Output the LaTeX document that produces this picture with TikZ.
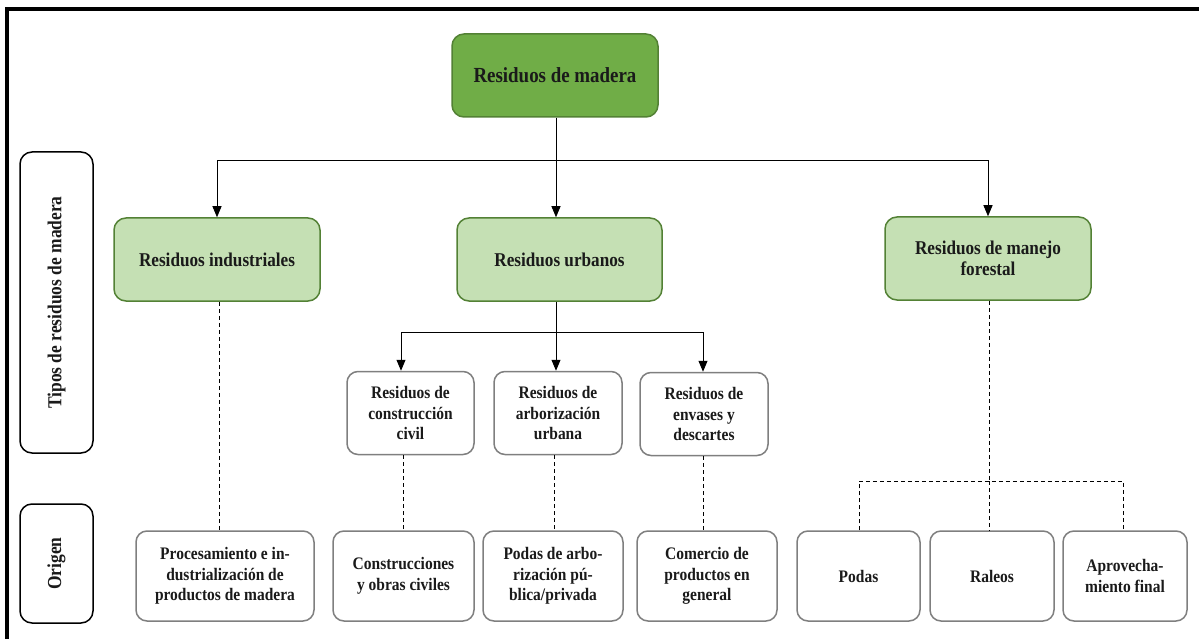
\documentclass[tikz,border=0pt]{standalone}
\usepackage{fontspec}
\setmainfont{Liberation Serif}
\newfontfamily\narrowserif[FakeStretch=0.88]{Liberation Serif}
\usetikzlibrary{arrows.meta}
\definecolor{rootgreen}{HTML}{70AD47}
\definecolor{typegreen}{HTML}{C5E0B4}
\definecolor{greenline}{HTML}{538135}
\definecolor{boxgray}{HTML}{7F7F7F}
\definecolor{ink}{HTML}{1A1A1A}
\begin{document}
\begin{tikzpicture}[x=1pt,y=-1pt,
  rootbox/.style={draw=greenline, fill=rootgreen, line width=1.5pt, rounded corners=12pt,
    minimum width=206pt, minimum height=83pt, inner sep=0pt, text=ink,
    font=\narrowserif\bfseries\fontsize{21.5}{24}\selectfont},
  typebox/.style={draw=greenline, fill=typegreen, line width=1.5pt, rounded corners=12pt,
    minimum width=206pt, minimum height=83pt, inner sep=0pt, align=center, text=ink,
    font=\narrowserif\bfseries\fontsize{19.5}{21.5}\selectfont},
  subbox/.style={draw=boxgray, fill=white, line width=1.5pt, rounded corners=11pt,
    minimum height=83pt, inner sep=0pt, align=center, text=ink,
    font=\narrowserif\bfseries\fontsize{17.6}{20.5}\selectfont},
  origbox/.style={subbox, minimum height=90pt},
  sidebox/.style={draw=black, line width=1.5pt, rounded corners=12pt, minimum width=73pt,
    inner sep=0pt, text=ink, font=\narrowserif\bfseries\fontsize{19.8}{22}\selectfont},
  arr/.style={line width=0.9pt, -{Triangle[length=11pt,width=9pt]}},
  dsh/.style={line width=0.9pt, dash pattern=on 4pt off 3pt},
  frameline/.style={line width=3.5pt, line cap=rect}]

\useasboundingbox (0,0) rectangle (1199,639);

% outer frame (open to the right and bottom)
\draw[frameline] (7,639) -- (7,9) -- (1199,9);

% side labels
\node[sidebox, minimum height=301pt] (tipos) at (56.5,302.5)
  {\rotatebox{90}{Tipos de residuos de madera}};
\node[sidebox, minimum height=119pt] (origen) at (56.5,563.5)
  {\rotatebox{90}{Origen}};

% root and waste types
\node[rootbox] (mad) at (555,75.5) {Residuos de madera};
\node[typebox] (ind) at (217,259.5) {Residuos industriales};
\node[typebox, minimum width=205pt] (urb) at (559.5,259.5) {Residuos urbanos};
\node[typebox] (for) at (988,258.5) {Residuos de manejo\\forestal};

% urban sub-types
\node[subbox, minimum width=127pt] (civ) at (410.5,413) {Residuos de\\construcción\\civil};
\node[subbox, minimum width=128pt] (arb) at (558,413) {Residuos de\\arborización\\urbana};
\node[subbox, minimum width=128pt] (env) at (704,414) {Residuos de\\envases y\\descartes};

% origins
\node[origbox, minimum width=178pt] (proc) at (225,576) {Procesamiento e in-\\dustrialización de\\productos de madera};
\node[origbox, minimum width=141pt] (cons) at (403.5,576) {Construcciones\\y obras civiles};
\node[origbox, minimum width=140pt] (poda) at (553,576) {Podas de arbo-\\rización pú-\\blica/privada};
\node[origbox, minimum width=140pt] (com) at (707,576) {Comercio de\\productos en\\general};
\node[origbox, minimum width=123pt] (pod) at (858.5,576) {Podas};
\node[origbox, minimum width=124pt] (ral) at (992,576) {Raleos};
\node[origbox, minimum width=124pt] (apr) at (1125,576) {Aprovecha-\\miento final};

% root to waste types
\coordinate (bus) at (556,160);
\draw[line width=0.9pt] (mad.south -| bus) -- (bus);
\draw[arr] (bus) -| (ind.north);
\draw[arr] (bus) -- (bus |- urb.north);
\draw[arr] (bus) -| (for.north);

% urban waste to its sub-types
\coordinate (ubus) at (556,332);
\draw[line width=0.9pt] (urb.south -| ubus) -- (ubus);
\draw[arr] (ubus) -| ([xshift=-9.5pt]civ.north);
\draw[arr] (ubus) -- (ubus |- arb.north);
\draw[arr] (ubus) -| ([xshift=-1pt]env.north);

% dashed links to origins
\draw[dsh] (ind.south -| 219,0) -- (proc.north -| 219,0);
\draw[dsh] (civ.south -| cons.north) -- (cons.north);
\draw[dsh] (arb.south -| 554,0) -- (poda.north -| 554,0);
\draw[dsh] (env.south -| 703,0) -- (com.north -| 703,0);

% forestry to its origins
\coordinate (fbus) at (989,481);
\draw[dsh] (for.south -| fbus) -- (fbus);
\draw[dsh] (pod.north -| 859,0) -- (859,481) -- (1123,481) -- (apr.north -| 1123,0);
\draw[dsh] (fbus) -- (ral.north -| fbus);
\end{tikzpicture}
\end{document}
